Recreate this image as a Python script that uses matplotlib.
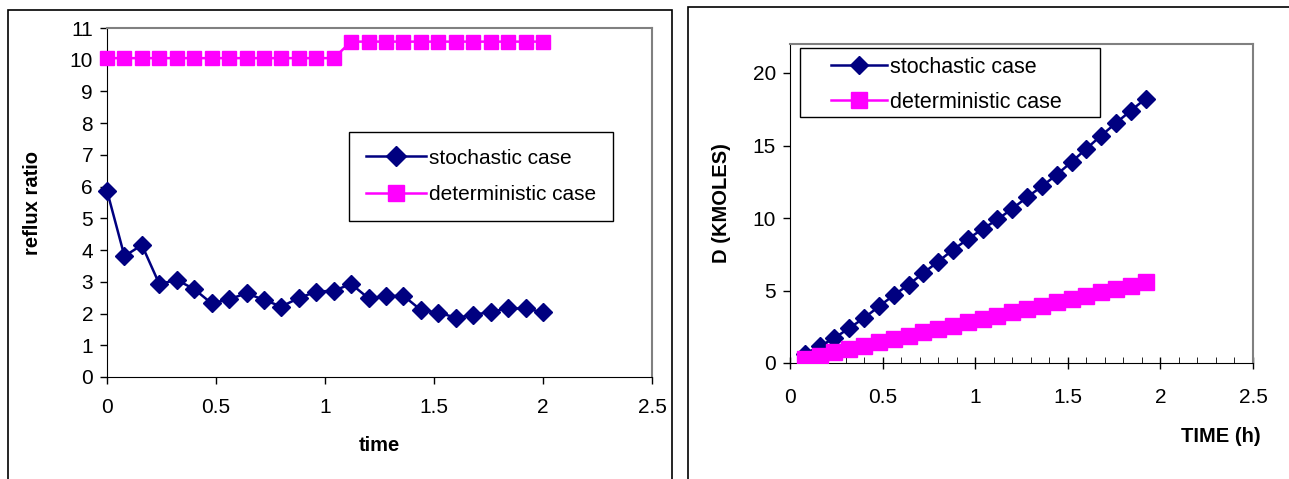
import matplotlib
matplotlib.use("Agg")
import matplotlib.pyplot as plt
from matplotlib.patches import Rectangle
from matplotlib.ticker import MultipleLocator

plt.rcParams['font.family'] = ['Liberation Sans', 'DejaVu Sans']

# left chart: reflux ratio against time
time_left = [0.0, 0.08, 0.16, 0.24, 0.32, 0.40, 0.48, 0.56, 0.64, 0.72, 0.80, 0.88, 0.96,
             1.04, 1.12, 1.20, 1.28, 1.36, 1.44, 1.52, 1.60, 1.68, 1.76, 1.84, 1.92, 2.00]
reflux_stoch = [5.87, 3.81, 4.16, 2.93, 3.06, 2.77, 2.32, 2.45, 2.64, 2.43, 2.22, 2.49, 2.69,
                2.72, 2.93, 2.48, 2.55, 2.56, 2.11, 2.03, 1.87, 1.95, 2.06, 2.16, 2.16, 2.04]
reflux_det = [10.05, 10.05, 10.05, 10.05, 10.05, 10.05, 10.05, 10.05, 10.05, 10.05, 10.05, 10.05, 10.05,
              10.05, 10.57, 10.57, 10.57, 10.57, 10.57, 10.57, 10.57, 10.57, 10.57, 10.57, 10.57, 10.57]

# right chart: distillate D against time
time_right = [0.08, 0.16, 0.24, 0.32, 0.40, 0.48, 0.56, 0.64, 0.72, 0.80, 0.88, 0.96,
              1.04, 1.12, 1.20, 1.28, 1.36, 1.44, 1.52, 1.60, 1.68, 1.76, 1.84, 1.92]
d_stoch = [0.62, 1.15, 1.72, 2.41, 3.10, 3.90, 4.67, 5.40, 6.20, 7.00, 7.80, 8.55,
           9.24, 9.90, 10.64, 11.43, 12.18, 12.99, 13.86, 14.78, 15.68, 16.55, 17.40, 18.23]
d_det = [0.28, 0.50, 0.73, 0.96, 1.19, 1.42, 1.65, 1.88, 2.11, 2.34, 2.57, 2.80,
         3.03, 3.26, 3.49, 3.72, 3.95, 4.18, 4.41, 4.64, 4.87, 5.10, 5.33, 5.57]

navy = '#000080'
pink = '#FF00FF'

fig = plt.figure(figsize=(12.89, 4.79), dpi=100)
W, H = 1289, 479

# outer frames around each chart
fig.patches.append(Rectangle((8 / W, -0.05), (672 - 8) / W, 1.05 - 10 / H,
                             transform=fig.transFigure, fill=False, edgecolor='black', lw=1.2))
fig.patches.append(Rectangle((688 / W, -0.05), (1300 - 688) / W, 1.05 - 7 / H,
                             transform=fig.transFigure, fill=False, edgecolor='black', lw=1.2))

# ---- left chart ----
ax1 = fig.add_axes([107 / W, 1 - 377 / H, (652 - 107) / W, (377 - 28) / H])
ax1.plot(time_left, reflux_stoch, color=navy, lw=1.8, marker='D', ms=9,
         label='stochastic case', clip_on=False, zorder=3)
ax1.plot(time_left, reflux_det, color=pink, lw=1.8, marker='s', ms=10.5,
         label='deterministic case', clip_on=False, zorder=3)
ax1.set_xlim(0, 2.5)
ax1.set_ylim(0, 11)
ax1.yaxis.set_major_locator(MultipleLocator(1))
ax1.set_xticks([0, 0.5, 1, 1.5, 2, 2.5])
ax1.set_xticklabels(['0', '0.5', '1', '1.5', '2', '2.5'])
ax1.tick_params(axis='both', labelsize=15, direction='out', length=5, width=1)
ax1.tick_params(axis='x', pad=10)
ax1.tick_params(axis='y', pad=5)
ax1.set_xlabel('time', fontsize=14.5, fontweight='bold', labelpad=14)
ax1.set_ylabel('reflux ratio', fontsize=14.5, fontweight='bold', labelpad=20)
for s in ['top', 'right']:
    ax1.spines[s].set_color('#808080')
    ax1.spines[s].set_linewidth(1.5)
ax1.legend(loc='upper left', bbox_to_anchor=(0.444, 0.702), borderaxespad=0,
           fancybox=False, edgecolor='black', framealpha=1, fontsize=15,
           handlelength=2.9, labelspacing=0.85, borderpad=0.8, handletextpad=0.15,
           markerscale=1.1)
ax1.get_legend().get_frame().set_linewidth(1.0)

# ---- right chart ----
ax2 = fig.add_axes([790 / W, 1 - 363 / H, (1253 - 790) / W, (363 - 44) / H])
ax2.plot(time_right, d_stoch, color=navy, lw=1.8, marker='D', ms=9.5,
         label='stochastic case', zorder=3)
ax2.plot(time_right, d_det, color=pink, lw=1.8, marker='s', ms=12,
         label='deterministic case', zorder=3)
ax2.set_xlim(0, 2.5)
ax2.set_ylim(0, 22)
ax2.set_xticks([0, 0.5, 1, 1.5, 2, 2.5])
ax2.set_xticklabels(['0', '0.5', '1', '1.5', '2', '2.5'])
ax2.set_yticks([0, 5, 10, 15, 20])
ax2.xaxis.set_minor_locator(MultipleLocator(0.1))
ax2.tick_params(axis='both', labelsize=15, width=1)
ax2.tick_params(axis='x', which='major', direction='inout', length=8, pad=14)
ax2.tick_params(axis='x', which='minor', direction='in', length=4)
ax2.tick_params(axis='y', direction='out', length=5, pad=5)
ax2.set_ylabel('D (KMOLES)', fontsize=14.5, fontweight='bold', labelpad=16)
ax2.set_xlabel('TIME (h)', fontsize=14.5, fontweight='bold')
ax2.xaxis.set_label_coords(0.93, -0.2)
for s in ['top', 'right']:
    ax2.spines[s].set_color('#808080')
    ax2.spines[s].set_linewidth(1.5)
# legend box wider than its entries, as in the original
ax2.add_patch(Rectangle((0.0216, 0.771), 0.648, 0.216, transform=ax2.transAxes,
                        facecolor='white', edgecolor='black', lw=1.0, zorder=4))
leg2 = ax2.legend(loc='upper left', bbox_to_anchor=(0.088, 0.96), borderaxespad=0,
                  frameon=False, fontsize=15.5, handlelength=2.6, labelspacing=0.64,
                  borderpad=0, handletextpad=0.15)
leg2.set_zorder(5)

fig.savefig('out.png', dpi=100)
